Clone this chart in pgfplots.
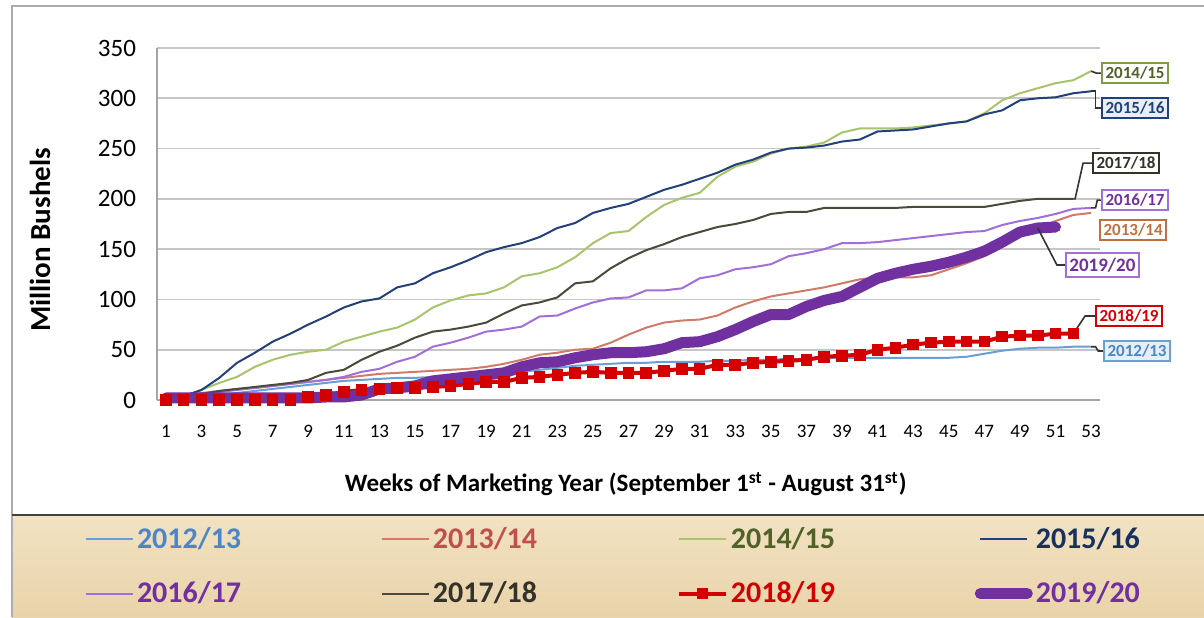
\documentclass[border=0pt]{standalone}
\usepackage{pgfplots}
\usepackage{pgfplotstable}
\pgfplotsset{compat=1.18}
\usepackage{fontspec}
\setmainfont{Carlito}

\definecolor{c1213}{HTML}{6A9FD4}
\definecolor{t1213}{HTML}{4A86C8}
\definecolor{c1314}{HTML}{D07A6A}
\definecolor{t1314}{HTML}{C0504D}
\definecolor{b1314}{HTML}{C0703D}
\definecolor{c1415}{HTML}{A9C46C}
\definecolor{t1415}{HTML}{4F6228}
\definecolor{b1415}{HTML}{7F9A48}
\definecolor{c1516}{HTML}{24407A}
\definecolor{t1516}{HTML}{17305E}
\definecolor{c1617}{HTML}{A070D8}
\definecolor{t1617}{HTML}{7030A0}
\definecolor{c1718}{HTML}{4A4A3A}
\definecolor{t1718}{HTML}{33332A}
\definecolor{c1819}{HTML}{D40000}
\definecolor{c1920}{HTML}{7030A0}

\pgfplotstableread{
w s1213 s1314 s1415 s1516 s1617 s1718 s1819 s1920
1 0 0 0 0 0 0 0 2
2 1 4 3 4 2 3 0 2
3 3 7 10 10 5 6 0 2
4 5 9 17 22 8 9 0 2
5 7 11 23 37 10 11 0 2
6 9 12 33 47 12 13 0 2
7 11 14 40 58 14 15 0 2
8 13 16 45 66 16 17 0 2
9 15 18 48 75 18 20 3 2
10 17 20 50 83 20 27 5 3
11 19 22 58 92 23 30 8 3
12 20 24 63 98 28 40 10 5
13 21 26 68 101 31 48 11 11
14 22 27 72 112 38 54 12 12
15 22 28 80 116 43 62 12 14
16 23 29 92 126 53 68 13 19
17 23 30 99 132 57 70 14 21
18 24 31 104 139 62 73 16 23
19 25 33 106 147 68 77 18 25
20 27 36 112 152 70 86 18 27
21 28 40 123 156 73 94 22 33
22 30 45 126 162 83 97 23 37
23 32 47 132 171 84 102 25 38
24 34 50 142 176 91 116 27 42
25 35 51 156 186 97 118 28 45
26 36 57 166 191 101 131 27 47
27 37 65 168 195 102 141 27 47
28 37 72 182 202 109 149 27 48
29 38 77 194 209 109 155 29 51
30 38 79 201 214 111 162 31 57
31 38 80 206 220 121 167 31 58
32 39 84 222 226 124 172 35 63
33 39 92 232 234 130 175 35 70
34 40 98 237 239 132 179 37 78
35 40 103 245 246 135 185 38 85
36 41 106 250 250 143 187 39 85
37 41 109 252 251 146 187 40 93
38 42 112 256 253 150 191 43 99
39 42 116 266 257 156 191 44 103
40 42 120 270 259 156 191 45 112
41 42 122 270 267 157 191 50 121
42 42 122 270 268 159 191 52 126
43 42 122 271 269 161 192 55 130
44 42 124 273 272 163 192 57 133
45 42 130 275 275 165 192 58 137
46 43 136 277 277 167 192 58 142
47 46 143 285 284 168 192 58 148
48 49 152 298 288 174 195 63 157
49 51 164 305 298 178 198 64 167
50 52 171 310 300 181 200 64 171
51 52 178 315 301 185 200 66 172
52 53 184 318 305 190 200 66 nan
53 53 186 327 307 191 nan nan nan
}\datatable

\begin{document}
\begin{tikzpicture}
\begin{scope}[x=0.5pt,y=-0.5pt,shift={(-157,-400)}]
 \useasboundingbox (0,0) rectangle (1204,617);
 \fill[white] (0,0) rectangle (1204,617);
 \shade[top color={rgb,255:red,242;green,226;blue,194}, middle color={rgb,255:red,248;green,240;blue,222}, bottom color={rgb,255:red,233;green,211;blue,170}] (12,516) rectangle (1204,617);
 \draw[gray!65, line width=1pt] (12,617) -- (12,6) -- (1204,6);
 \draw[black!75, line width=1.2pt] (12,515) -- (1204,515);
\end{scope}
\begin{axis}[
  scale only axis, width=471.5pt, height=176pt,
  xmin=0.5, xmax=53.5, ymin=0, ymax=350,
  xtick={1,3,...,53}, ytick={0,50,...,350},
  axis x line*=bottom, axis y line*=left,
  axis line style={draw=gray!70, line width=0.9pt},
  major tick length=0pt,
  ymajorgrids, major grid style={draw=gray!45, line width=0.8pt},
  clip=false,
  /pgf/number format/assume math mode=true,
  yticklabel style={font=\fontsize{12.5}{14}\selectfont, xshift=-7pt},
  xticklabel style={font=\fontsize{9.5}{11}\selectfont, yshift=-9pt},
  xlabel={Weeks of Marketing Year (September 1\textsuperscript{st} - August 31\textsuperscript{st})},
  xlabel style={font=\bfseries\fontsize{12.5}{14}\selectfont, at={(axis description cs:0.497,-0.2386)}, anchor=center},
  ylabel={Million Bushels},
  ylabel style={font=\bfseries\fontsize{14.5}{16}\selectfont, at={(axis description cs:-0.124,0.4545)}, anchor=center},
  legend columns=4,
  legend image code/.code={\draw[mark repeat=2,mark phase=2,#1] plot coordinates {(0pt,0pt) (11.75pt,0pt) (23.5pt,0pt)};},
  legend style={at={(axis description cs:0.4846,-0.473)}, anchor=center, draw=none, fill=none,
    font=\bfseries\fontsize{15}{18}\selectfont, nodes={inner xsep=1.5pt, inner ysep=2pt},
    /tikz/every even column/.append style={column sep=68.4pt}, row sep=11pt},
]
\addplot[c1213, line width=1pt] table[x=w, y=s1213] {\datatable};
\addlegendentry{\textcolor{t1213}{2012/13}}
\addplot[c1314, line width=1pt] table[x=w, y=s1314] {\datatable};
\addlegendentry{\textcolor{t1314}{2013/14}}
\addplot[c1415, line width=1pt] table[x=w, y=s1415] {\datatable};
\addlegendentry{\textcolor{t1415}{2014/15}}
\addplot[c1516, line width=1pt] table[x=w, y=s1516] {\datatable};
\addlegendentry{\textcolor{t1516}{2015/16}}
\addplot[c1617, line width=1pt] table[x=w, y=s1617] {\datatable};
\addlegendentry{\textcolor{t1617}{2016/17}}
\addplot[c1718, line width=1pt] table[x=w, y=s1718] {\datatable};
\addlegendentry{\textcolor{t1718}{2017/18}}
\addplot[c1819, line width=2pt, mark=square*, mark size=1.9pt, mark options={solid}] table[x=w, y=s1819] {\datatable};
\addlegendentry{\textcolor{c1819}{2018/19}}
\addplot[c1920, line width=5.5pt, line cap=round, line join=round] table[x=w, y=s1920] {\datatable};
\addlegendentry{\textcolor{c1920}{2019/20}}

\tikzset{lab/.style={anchor=west, fill=white, line width=0.9pt, inner xsep=1.8pt, inner ysep=1.8pt, font=\bfseries\fontsize{8.5}{10}\selectfont}}
\draw[black!80, line width=0.8pt] (axis cs:53,327) -- (axis cs:53.3,325) -- (axis cs:53.56,325);
\node[lab, draw=b1415, text=t1415] at (axis cs:53.56,325) {2014/15};
\draw[black!80, line width=0.8pt] (axis cs:53,307) -- (axis cs:53.25,307) -- (axis cs:53.25,290.3) -- (axis cs:53.56,290.3);
\node[lab, draw=c1516, text=c1516, fill={rgb,255:red,232;green,238;blue,248}] at (axis cs:53.56,290.3) {2015/16};
\draw[black!80, line width=0.8pt] (axis cs:52,200) -- (axis cs:52.1,200) -- (axis cs:52.55,235.6) -- (axis cs:53.05,235.6);
\node[lab, draw=t1718, text=t1718] at (axis cs:53.05,235.6) {2017/18};
\draw[black!80, line width=0.8pt] (axis cs:53,191) -- (axis cs:53.25,191) -- (axis cs:53.35,198.8) -- (axis cs:53.56,198.8);
\node[lab, draw=c1617, text=t1617] at (axis cs:53.56,198.8) {2016/17};
\node[lab, draw=b1314, text=b1314] at (axis cs:53.45,169) {2013/14};
\draw[black!80, line width=0.8pt] (axis cs:50,171) -- (axis cs:51.08,134.2) -- (axis cs:51.53,134.2);
\node[lab, draw=c1617, text=t1617, inner ysep=2.5pt, font=\bfseries\fontsize{9.5}{11}\selectfont] at (axis cs:51.53,134.2) {2019/20};
\draw[black!80, line width=0.8pt] (axis cs:52,66) -- (axis cs:52.66,83.5) -- (axis cs:53.22,83.5);
\node[lab, draw=c1819, text=c1819] at (axis cs:53.22,83.5) {2018/19};
\draw[black!80, line width=0.8pt] (axis cs:53,53) -- (axis cs:53.25,53) -- (axis cs:53.4,48.7) -- (axis cs:53.67,48.7);
\node[lab, draw=c1213, text=t1213, fill={rgb,255:red,230;green,238;blue,248}] at (axis cs:53.67,48.7) {2012/13};
\end{axis}
\end{tikzpicture}
\end{document}
